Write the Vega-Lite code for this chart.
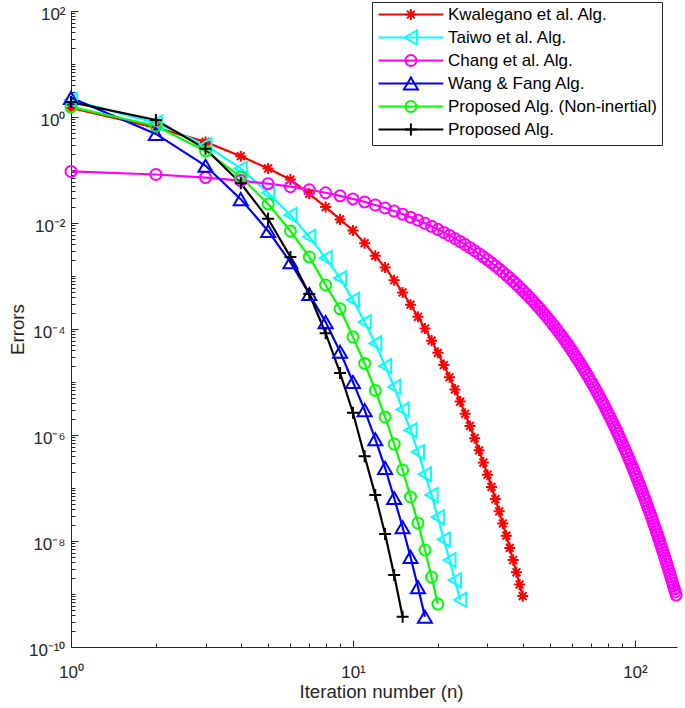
{
  "$schema": "https://vega.github.io/schema/vega-lite/v6.json",
  "width": 606,
  "height": 636,
  "autosize": "none",
  "padding": {"left": 71, "top": 11, "right": 8, "bottom": 61},
  "background": "white",
  "config": {
    "view": {"stroke": null},
    "font": "Liberation Sans",
    "axis": {
      "grid": false,
      "domainColor": "#262626",
      "domainWidth": 1,
      "tickColor": "#262626",
      "tickWidth": 1,
      "labelColor": "#262626",
      "labelFont": "Liberation Sans",
      "labelFontSize": 17,
      "labelFlush": false,
      "titleColor": "#262626",
      "titleFont": "Liberation Sans",
      "titleFontSize": 18.7,
      "titleFontWeight": "normal"
    },
    "legend": {"labelFont": "Liberation Sans"}
  },
  "data": {"values": [
    {"alg":"Kwalegano et al. Alg.","n":1,"err":1.48},{"alg":"Kwalegano et al. Alg.","n":2,"err":0.631},{"alg":"Kwalegano et al. Alg.","n":3,"err":0.339},{"alg":"Kwalegano et al. Alg.","n":4,"err":0.182},{"alg":"Kwalegano et al. Alg.","n":5,"err":0.107},{"alg":"Kwalegano et al. Alg.","n":6,"err":0.0661},{"alg":"Kwalegano et al. Alg.","n":7,"err":0.0355},{"alg":"Kwalegano et al. Alg.","n":8,"err":0.0200},{"alg":"Kwalegano et al. Alg.","n":9,"err":0.0117},{"alg":"Kwalegano et al. Alg.","n":10,"err":7.24e-3},
    {"alg":"Kwalegano et al. Alg.","n":11,"err":4.17e-3},{"alg":"Kwalegano et al. Alg.","n":12,"err":2.40e-3},{"alg":"Kwalegano et al. Alg.","n":13,"err":1.45e-3},{"alg":"Kwalegano et al. Alg.","n":14,"err":8.32e-4},{"alg":"Kwalegano et al. Alg.","n":15,"err":4.90e-4},{"alg":"Kwalegano et al. Alg.","n":16,"err":2.88e-4},{"alg":"Kwalegano et al. Alg.","n":17,"err":1.70e-4},{"alg":"Kwalegano et al. Alg.","n":18,"err":1.02e-4},{"alg":"Kwalegano et al. Alg.","n":19,"err":6.03e-5},{"alg":"Kwalegano et al. Alg.","n":20,"err":3.55e-5},
    {"alg":"Kwalegano et al. Alg.","n":21,"err":2.09e-5},{"alg":"Kwalegano et al. Alg.","n":22,"err":1.23e-5},{"alg":"Kwalegano et al. Alg.","n":23,"err":7.24e-6},{"alg":"Kwalegano et al. Alg.","n":24,"err":4.27e-6},{"alg":"Kwalegano et al. Alg.","n":25,"err":2.51e-6},{"alg":"Kwalegano et al. Alg.","n":26,"err":1.48e-6},{"alg":"Kwalegano et al. Alg.","n":27,"err":8.71e-7},{"alg":"Kwalegano et al. Alg.","n":28,"err":5.13e-7},{"alg":"Kwalegano et al. Alg.","n":29,"err":3.02e-7},{"alg":"Kwalegano et al. Alg.","n":30,"err":1.78e-7},
    {"alg":"Kwalegano et al. Alg.","n":31,"err":1.05e-7},{"alg":"Kwalegano et al. Alg.","n":32,"err":6.17e-8},{"alg":"Kwalegano et al. Alg.","n":33,"err":3.63e-8},{"alg":"Kwalegano et al. Alg.","n":34,"err":2.14e-8},{"alg":"Kwalegano et al. Alg.","n":35,"err":1.26e-8},{"alg":"Kwalegano et al. Alg.","n":36,"err":7.41e-9},{"alg":"Kwalegano et al. Alg.","n":37,"err":4.37e-9},{"alg":"Kwalegano et al. Alg.","n":38,"err":2.57e-9},{"alg":"Kwalegano et al. Alg.","n":39,"err":1.51e-9},{"alg":"Kwalegano et al. Alg.","n":40,"err":9.12e-10},
    {"alg":"Taiwo et al. Alg.","n":1,"err":2.09},{"alg":"Taiwo et al. Alg.","n":2,"err":0.776},{"alg":"Taiwo et al. Alg.","n":3,"err":0.295},{"alg":"Taiwo et al. Alg.","n":4,"err":0.107},{"alg":"Taiwo et al. Alg.","n":5,"err":0.0372},{"alg":"Taiwo et al. Alg.","n":6,"err":0.0141},{"alg":"Taiwo et al. Alg.","n":7,"err":5.50e-3},{"alg":"Taiwo et al. Alg.","n":8,"err":2.19e-3},{"alg":"Taiwo et al. Alg.","n":9,"err":9.12e-4},{"alg":"Taiwo et al. Alg.","n":10,"err":3.55e-4},
    {"alg":"Taiwo et al. Alg.","n":11,"err":1.35e-4},{"alg":"Taiwo et al. Alg.","n":12,"err":5.37e-5},{"alg":"Taiwo et al. Alg.","n":13,"err":2.00e-5},{"alg":"Taiwo et al. Alg.","n":14,"err":8.13e-6},{"alg":"Taiwo et al. Alg.","n":15,"err":3.02e-6},{"alg":"Taiwo et al. Alg.","n":16,"err":1.23e-6},{"alg":"Taiwo et al. Alg.","n":17,"err":4.79e-7},{"alg":"Taiwo et al. Alg.","n":18,"err":1.82e-7},{"alg":"Taiwo et al. Alg.","n":19,"err":7.41e-8},{"alg":"Taiwo et al. Alg.","n":20,"err":2.82e-8},
    {"alg":"Taiwo et al. Alg.","n":21,"err":1.07e-8},{"alg":"Taiwo et al. Alg.","n":22,"err":4.37e-9},{"alg":"Taiwo et al. Alg.","n":23,"err":1.82e-9},{"alg":"Taiwo et al. Alg.","n":24,"err":7.76e-10},
    {"alg":"Chang et al. Alg.","n":1,"err":9.39e-2},{"alg":"Chang et al. Alg.","n":2,"err":8.22e-2},{"alg":"Chang et al. Alg.","n":3,"err":7.20e-2},{"alg":"Chang et al. Alg.","n":4,"err":6.31e-2},{"alg":"Chang et al. Alg.","n":5,"err":5.53e-2},{"alg":"Chang et al. Alg.","n":6,"err":4.84e-2},{"alg":"Chang et al. Alg.","n":7,"err":4.24e-2},{"alg":"Chang et al. Alg.","n":8,"err":3.72e-2},{"alg":"Chang et al. Alg.","n":9,"err":3.25e-2},{"alg":"Chang et al. Alg.","n":10,"err":2.85e-2},
    {"alg":"Chang et al. Alg.","n":11,"err":2.50e-2},{"alg":"Chang et al. Alg.","n":12,"err":2.19e-2},{"alg":"Chang et al. Alg.","n":13,"err":1.92e-2},{"alg":"Chang et al. Alg.","n":14,"err":1.68e-2},{"alg":"Chang et al. Alg.","n":15,"err":1.47e-2},{"alg":"Chang et al. Alg.","n":16,"err":1.29e-2},{"alg":"Chang et al. Alg.","n":17,"err":1.13e-2},{"alg":"Chang et al. Alg.","n":18,"err":9.89e-3},{"alg":"Chang et al. Alg.","n":19,"err":8.66e-3},{"alg":"Chang et al. Alg.","n":20,"err":7.59e-3},
    {"alg":"Chang et al. Alg.","n":21,"err":6.65e-3},{"alg":"Chang et al. Alg.","n":22,"err":5.82e-3},{"alg":"Chang et al. Alg.","n":23,"err":5.10e-3},{"alg":"Chang et al. Alg.","n":24,"err":4.47e-3},{"alg":"Chang et al. Alg.","n":25,"err":3.91e-3},{"alg":"Chang et al. Alg.","n":26,"err":3.43e-3},{"alg":"Chang et al. Alg.","n":27,"err":3.00e-3},{"alg":"Chang et al. Alg.","n":28,"err":2.63e-3},{"alg":"Chang et al. Alg.","n":29,"err":2.30e-3},{"alg":"Chang et al. Alg.","n":30,"err":2.02e-3},
    {"alg":"Chang et al. Alg.","n":31,"err":1.77e-3},{"alg":"Chang et al. Alg.","n":32,"err":1.55e-3},{"alg":"Chang et al. Alg.","n":33,"err":1.36e-3},{"alg":"Chang et al. Alg.","n":34,"err":1.19e-3},{"alg":"Chang et al. Alg.","n":35,"err":1.04e-3},{"alg":"Chang et al. Alg.","n":36,"err":9.12e-4},{"alg":"Chang et al. Alg.","n":37,"err":7.99e-4},{"alg":"Chang et al. Alg.","n":38,"err":7.00e-4},{"alg":"Chang et al. Alg.","n":39,"err":6.13e-4},{"alg":"Chang et al. Alg.","n":40,"err":5.37e-4},
    {"alg":"Chang et al. Alg.","n":41,"err":4.70e-4},{"alg":"Chang et al. Alg.","n":42,"err":4.12e-4},{"alg":"Chang et al. Alg.","n":43,"err":3.61e-4},{"alg":"Chang et al. Alg.","n":44,"err":3.16e-4},{"alg":"Chang et al. Alg.","n":45,"err":2.77e-4},{"alg":"Chang et al. Alg.","n":46,"err":2.43e-4},{"alg":"Chang et al. Alg.","n":47,"err":2.13e-4},{"alg":"Chang et al. Alg.","n":48,"err":1.86e-4},{"alg":"Chang et al. Alg.","n":49,"err":1.63e-4},{"alg":"Chang et al. Alg.","n":50,"err":1.43e-4},
    {"alg":"Chang et al. Alg.","n":51,"err":1.25e-4},{"alg":"Chang et al. Alg.","n":52,"err":1.10e-4},{"alg":"Chang et al. Alg.","n":53,"err":9.60e-5},{"alg":"Chang et al. Alg.","n":54,"err":8.41e-5},{"alg":"Chang et al. Alg.","n":55,"err":7.37e-5},{"alg":"Chang et al. Alg.","n":56,"err":6.46e-5},{"alg":"Chang et al. Alg.","n":57,"err":5.66e-5},{"alg":"Chang et al. Alg.","n":58,"err":4.95e-5},{"alg":"Chang et al. Alg.","n":59,"err":4.34e-5},{"alg":"Chang et al. Alg.","n":60,"err":3.80e-5},
    {"alg":"Chang et al. Alg.","n":61,"err":3.33e-5},{"alg":"Chang et al. Alg.","n":62,"err":2.92e-5},{"alg":"Chang et al. Alg.","n":63,"err":2.56e-5},{"alg":"Chang et al. Alg.","n":64,"err":2.24e-5},{"alg":"Chang et al. Alg.","n":65,"err":1.96e-5},{"alg":"Chang et al. Alg.","n":66,"err":1.72e-5},{"alg":"Chang et al. Alg.","n":67,"err":1.50e-5},{"alg":"Chang et al. Alg.","n":68,"err":1.32e-5},{"alg":"Chang et al. Alg.","n":69,"err":1.15e-5},{"alg":"Chang et al. Alg.","n":70,"err":1.01e-5},
    {"alg":"Chang et al. Alg.","n":71,"err":8.86e-6},{"alg":"Chang et al. Alg.","n":72,"err":7.76e-6},{"alg":"Chang et al. Alg.","n":73,"err":6.80e-6},{"alg":"Chang et al. Alg.","n":74,"err":5.96e-6},{"alg":"Chang et al. Alg.","n":75,"err":5.22e-6},{"alg":"Chang et al. Alg.","n":76,"err":4.57e-6},{"alg":"Chang et al. Alg.","n":77,"err":4.00e-6},{"alg":"Chang et al. Alg.","n":78,"err":3.51e-6},{"alg":"Chang et al. Alg.","n":79,"err":3.07e-6},{"alg":"Chang et al. Alg.","n":80,"err":2.69e-6},
    {"alg":"Chang et al. Alg.","n":81,"err":2.36e-6},{"alg":"Chang et al. Alg.","n":82,"err":2.07e-6},{"alg":"Chang et al. Alg.","n":83,"err":1.81e-6},{"alg":"Chang et al. Alg.","n":84,"err":1.58e-6},{"alg":"Chang et al. Alg.","n":85,"err":1.39e-6},{"alg":"Chang et al. Alg.","n":86,"err":1.22e-6},{"alg":"Chang et al. Alg.","n":87,"err":1.07e-6},{"alg":"Chang et al. Alg.","n":88,"err":9.33e-7},{"alg":"Chang et al. Alg.","n":89,"err":8.18e-7},{"alg":"Chang et al. Alg.","n":90,"err":7.16e-7},
    {"alg":"Chang et al. Alg.","n":91,"err":6.27e-7},{"alg":"Chang et al. Alg.","n":92,"err":5.50e-7},{"alg":"Chang et al. Alg.","n":93,"err":4.81e-7},{"alg":"Chang et al. Alg.","n":94,"err":4.22e-7},{"alg":"Chang et al. Alg.","n":95,"err":3.69e-7},{"alg":"Chang et al. Alg.","n":96,"err":3.24e-7},{"alg":"Chang et al. Alg.","n":97,"err":2.84e-7},{"alg":"Chang et al. Alg.","n":98,"err":2.48e-7},{"alg":"Chang et al. Alg.","n":99,"err":2.18e-7},{"alg":"Chang et al. Alg.","n":100,"err":1.91e-7},
    {"alg":"Chang et al. Alg.","n":101,"err":1.67e-7},{"alg":"Chang et al. Alg.","n":102,"err":1.46e-7},{"alg":"Chang et al. Alg.","n":103,"err":1.28e-7},{"alg":"Chang et al. Alg.","n":104,"err":1.12e-7},{"alg":"Chang et al. Alg.","n":105,"err":9.83e-8},{"alg":"Chang et al. Alg.","n":106,"err":8.61e-8},{"alg":"Chang et al. Alg.","n":107,"err":7.54e-8},{"alg":"Chang et al. Alg.","n":108,"err":6.61e-8},{"alg":"Chang et al. Alg.","n":109,"err":5.79e-8},{"alg":"Chang et al. Alg.","n":110,"err":5.07e-8},
    {"alg":"Chang et al. Alg.","n":111,"err":4.44e-8},{"alg":"Chang et al. Alg.","n":112,"err":3.89e-8},{"alg":"Chang et al. Alg.","n":113,"err":3.41e-8},{"alg":"Chang et al. Alg.","n":114,"err":2.99e-8},{"alg":"Chang et al. Alg.","n":115,"err":2.62e-8},{"alg":"Chang et al. Alg.","n":116,"err":2.29e-8},{"alg":"Chang et al. Alg.","n":117,"err":2.01e-8},{"alg":"Chang et al. Alg.","n":118,"err":1.76e-8},{"alg":"Chang et al. Alg.","n":119,"err":1.54e-8},{"alg":"Chang et al. Alg.","n":120,"err":1.35e-8},
    {"alg":"Chang et al. Alg.","n":121,"err":1.18e-8},{"alg":"Chang et al. Alg.","n":122,"err":1.04e-8},{"alg":"Chang et al. Alg.","n":123,"err":9.07e-9},{"alg":"Chang et al. Alg.","n":124,"err":7.94e-9},{"alg":"Chang et al. Alg.","n":125,"err":6.96e-9},{"alg":"Chang et al. Alg.","n":126,"err":6.10e-9},{"alg":"Chang et al. Alg.","n":127,"err":5.34e-9},{"alg":"Chang et al. Alg.","n":128,"err":4.68e-9},{"alg":"Chang et al. Alg.","n":129,"err":4.10e-9},{"alg":"Chang et al. Alg.","n":130,"err":3.59e-9},
    {"alg":"Chang et al. Alg.","n":131,"err":3.15e-9},{"alg":"Chang et al. Alg.","n":132,"err":2.75e-9},{"alg":"Chang et al. Alg.","n":133,"err":2.41e-9},{"alg":"Chang et al. Alg.","n":134,"err":2.11e-9},{"alg":"Chang et al. Alg.","n":135,"err":1.85e-9},{"alg":"Chang et al. Alg.","n":136,"err":1.62e-9},{"alg":"Chang et al. Alg.","n":137,"err":1.42e-9},{"alg":"Chang et al. Alg.","n":138,"err":1.24e-9},{"alg":"Chang et al. Alg.","n":139,"err":1.09e-9},{"alg":"Chang et al. Alg.","n":140,"err":9.55e-10},
    {"alg":"Wang & Fang Alg.","n":1,"err":2.3},{"alg":"Wang & Fang Alg.","n":2,"err":0.479},{"alg":"Wang & Fang Alg.","n":3,"err":0.120},{"alg":"Wang & Fang Alg.","n":4,"err":0.0282},{"alg":"Wang & Fang Alg.","n":5,"err":7.08e-3},{"alg":"Wang & Fang Alg.","n":6,"err":1.82e-3},{"alg":"Wang & Fang Alg.","n":7,"err":4.57e-4},{"alg":"Wang & Fang Alg.","n":8,"err":1.35e-4},{"alg":"Wang & Fang Alg.","n":9,"err":3.72e-5},{"alg":"Wang & Fang Alg.","n":10,"err":1.00e-5},
    {"alg":"Wang & Fang Alg.","n":11,"err":2.95e-6},{"alg":"Wang & Fang Alg.","n":12,"err":8.32e-7},{"alg":"Wang & Fang Alg.","n":13,"err":2.40e-7},{"alg":"Wang & Fang Alg.","n":14,"err":6.46e-8},{"alg":"Wang & Fang Alg.","n":15,"err":1.82e-8},{"alg":"Wang & Fang Alg.","n":16,"err":5.01e-9},{"alg":"Wang & Fang Alg.","n":17,"err":1.35e-9},{"alg":"Wang & Fang Alg.","n":18,"err":3.72e-10},
    {"alg":"Proposed Alg. (Non-inertial)","n":1,"err":1.55},{"alg":"Proposed Alg. (Non-inertial)","n":2,"err":0.676},{"alg":"Proposed Alg. (Non-inertial)","n":3,"err":0.229},{"alg":"Proposed Alg. (Non-inertial)","n":4,"err":0.0741},{"alg":"Proposed Alg. (Non-inertial)","n":5,"err":0.0229},{"alg":"Proposed Alg. (Non-inertial)","n":6,"err":7.08e-3},{"alg":"Proposed Alg. (Non-inertial)","n":7,"err":2.29e-3},{"alg":"Proposed Alg. (Non-inertial)","n":8,"err":6.76e-4},{"alg":"Proposed Alg. (Non-inertial)","n":9,"err":2.40e-4},{"alg":"Proposed Alg. (Non-inertial)","n":10,"err":7.08e-5},
    {"alg":"Proposed Alg. (Non-inertial)","n":11,"err":2.24e-5},{"alg":"Proposed Alg. (Non-inertial)","n":12,"err":6.92e-6},{"alg":"Proposed Alg. (Non-inertial)","n":13,"err":2.19e-6},{"alg":"Proposed Alg. (Non-inertial)","n":14,"err":6.76e-7},{"alg":"Proposed Alg. (Non-inertial)","n":15,"err":2.19e-7},{"alg":"Proposed Alg. (Non-inertial)","n":16,"err":6.76e-8},{"alg":"Proposed Alg. (Non-inertial)","n":17,"err":2.19e-8},{"alg":"Proposed Alg. (Non-inertial)","n":18,"err":6.76e-9},{"alg":"Proposed Alg. (Non-inertial)","n":19,"err":2.09e-9},{"alg":"Proposed Alg. (Non-inertial)","n":20,"err":6.46e-10},
    {"alg":"Proposed Alg.","n":1,"err":1.91},{"alg":"Proposed Alg.","n":2,"err":0.877},{"alg":"Proposed Alg.","n":3,"err":0.251},{"alg":"Proposed Alg.","n":4,"err":0.0562},{"alg":"Proposed Alg.","n":5,"err":0.0120},{"alg":"Proposed Alg.","n":6,"err":2.29e-3},{"alg":"Proposed Alg.","n":7,"err":4.57e-4},{"alg":"Proposed Alg.","n":8,"err":8.32e-5},{"alg":"Proposed Alg.","n":9,"err":1.48e-5},{"alg":"Proposed Alg.","n":10,"err":2.63e-6},
    {"alg":"Proposed Alg.","n":11,"err":3.98e-7},{"alg":"Proposed Alg.","n":12,"err":7.41e-8},{"alg":"Proposed Alg.","n":13,"err":1.35e-8},{"alg":"Proposed Alg.","n":14,"err":2.29e-9},{"alg":"Proposed Alg.","n":15,"err":3.72e-10}
  ]},
  "encoding": {
    "x": {"field": "n", "type": "quantitative", "scale": {"type": "log", "domain": [1, 141], "nice": false}},
    "y": {"field": "err", "type": "quantitative", "scale": {"type": "log", "domain": [1e-10, 100], "nice": false}}
  },
  "layer": [
    {
      "mark": {"type": "line", "strokeWidth": 2.2},
      "encoding": {
        "x": {"field": "n", "type": "quantitative", "axis": {"orient": "bottom", "values": [1, 10, 100], "tickSize": -7, "labelPadding": 24, "labelExpr": "'10' + replace(replace(replace(replace(replace(replace(replace('' + round(log(datum.value) / LN10), '-', '⁻'), '1', '¹'), '0', '⁰'), '2', '²'), '4', '⁴'), '6', '⁶'), '8', '⁸')", "title": "Iteration number (n)", "titlePadding": 2, "titleX": 310}},
        "y": {"field": "err", "type": "quantitative", "axis": {"orient": "left", "values": [1e-10, 1e-8, 1e-6, 1e-4, 1e-2, 1, 100], "tickSize": -7, "labelPadding": 13, "labelOffset": 3, "labelExpr": "'10' + replace(replace(replace(replace(replace(replace(replace('' + round(log(datum.value) / LN10), '-', '⁻'), '1', '¹'), '0', '⁰'), '2', '²'), '4', '⁴'), '6', '⁶'), '8', '⁸')", "title": "Errors", "titlePadding": 1}},
        "stroke": {
          "field": "alg", "type": "nominal", "sort": null,
          "scale": {"range": ["#FF0000", "#00FFFF", "#FF00FF", "#0000FF", "#00FF00", "#000000"]},
          "legend": {
            "title": null, "orient": "none", "legendX": 301, "legendY": -9,
            "labelFontSize": 17, "labelColor": "#000000", "labelLimit": 0,
            "labelOffset": 55, "symbolType": "M-1,0L9.8,0M-1,-1.17M9.8,1.17", "symbolSize": 144, "symbolStrokeWidth": 2,
            "rowPadding": 0, "padding": 4, "strokeColor": "#262626", "fillColor": "white", "zindex": 0
          }
        }
      }
    },
    {
      "mark": {"type": "point", "filled": false, "strokeWidth": 2, "size": 144, "opacity": 1},
      "encoding": {
        "x": {"field": "n", "type": "quantitative", "axis": {"orient": "bottom", "tickCount": 30, "labels": false, "tickSize": -4, "title": null, "domain": false}},
        "y": {"field": "err", "type": "quantitative", "axis": {"orient": "left", "tickCount": 30, "labels": false, "tickSize": -4, "title": null, "domain": false}},
        "color": {
          "field": "alg", "type": "nominal",
          "scale": {
            "domain": ["Kwalegano et al. Alg.", "Taiwo et al. Alg.", "Chang et al. Alg.", "Wang & Fang Alg.", "Proposed Alg. (Non-inertial)", "Proposed Alg."],
            "range": ["#FF0000", "#00FFFF", "#FF00FF", "#0000FF", "#00FF00", "#000000"]
          },
          "legend": {
            "title": null, "orient": "none", "legendX": 301, "legendY": -9,
            "labelFontSize": 17, "labelExpr": "''", "labelLimit": 0,
            "labelOffset": 55, "symbolSize": 144, "symbolStrokeWidth": 2, "symbolOffset": 26.4,
            "rowPadding": 0, "padding": 4, "zindex": 1
          }
        },
        "shape": {
          "field": "alg", "type": "nominal",
          "scale": {
            "domain": ["Kwalegano et al. Alg.", "Taiwo et al. Alg.", "Chang et al. Alg.", "Wang & Fang Alg.", "Proposed Alg. (Non-inertial)", "Proposed Alg."],
            "range": ["M0,-0.92L0,0.92M-0.92,0L0.92,0M-0.65,-0.65L0.65,0.65M-0.65,0.65L0.65,-0.65M-5.4,-1.17M5.4,1.17", "M-1.01,0L1.01,-1.167L1.01,1.167ZM-5.4,-1.17M5.4,1.17", "M-0.917,0A0.917,0.917,0,1,0,0.917,0A0.917,0.917,0,1,0,-0.917,0ZM-5.4,-1.17M5.4,1.17", "M0,-1.01L-1.167,1.01L1.167,1.01ZM-5.4,-1.17M5.4,1.17", "M-0.917,0A0.917,0.917,0,1,0,0.917,0A0.917,0.917,0,1,0,-0.917,0ZM-5.4,-1.17M5.4,1.17", "M-1,0L1,0M0,-1L0,1M-5.4,-1.17M5.4,1.17"]
          },
          "legend": {
            "title": null, "orient": "none", "legendX": 301, "legendY": -9,
            "labelFontSize": 17, "labelExpr": "''", "labelLimit": 0,
            "labelOffset": 55, "symbolSize": 144, "symbolStrokeWidth": 2, "symbolOffset": 26.4,
            "rowPadding": 0, "padding": 4, "zindex": 1
          }
        }
      }
    }
  ],
  "resolve": {"axis": {"x": "independent", "y": "independent"}}
}
